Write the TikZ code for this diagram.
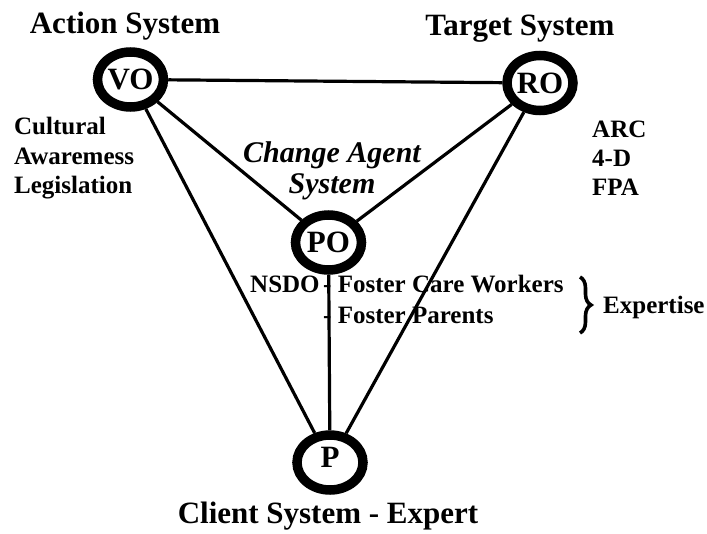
\documentclass[tikz,border=0pt]{standalone}
\usepackage{fontspec}
\setmainfont{Liberation Serif}
\usetikzlibrary{shapes.geometric,decorations.pathreplacing}
\begin{document}
\begin{tikzpicture}[x=1pt,y=-1pt,
  ring/.style={ellipse, draw, line width=9.5pt, minimum width=66pt, minimum height=55pt,
    inner sep=0pt, font=\fontsize{31}{31}\selectfont\bfseries},
  link/.style={line width=3.2pt},
  head/.style={inner sep=0pt, anchor=base, font=\fontsize{31}{37}\selectfont\bfseries},
  agent/.style={inner sep=0pt, anchor=base, font=\fontsize{30}{31}\selectfont\bfseries\itshape},
  note/.style={inner sep=0pt, anchor=base west, font=\fontsize{25}{29}\selectfont\bfseries}]
\useasboundingbox (0,0) rectangle (707,533);

% the four subsystems
\node[ring] (VO) at (130.5,79.5) {VO};
\node[ring] (RO) at (540,83) {RO};
\node[ring] (PO) at (328.5,242.5) {PO};
\node[ring, text depth=10pt] (P) at (330,462.5) {P};

% links between them
\draw[link] (VO) -- (RO);
\draw[link] (VO) -- (PO);
\draw[link] (RO) -- (PO);
\draw[link] (VO) -- (P);
\draw[link] (RO) -- (P);
\draw[link] (PO) -- (P);

% system titles
\node[head] (action) at (125,33) {Action System};
\node[head] (target) at (520,35) {Target System};
\node[head] (client) at (328,523) {Client System - Expert};
\node[agent] (agent1) at (332,162) {Change Agent};
\node[agent] (agent2) at (332,193) {System};

% action system notes
\node[note] (cult) at (14,134) {Cultural};
\node[note] (aware) at (14,164) {Awaremess};
\node[note] (legis) at (14,193) {Legislation};

% target system notes
\node[note] (arc) at (592,137) {ARC};
\node[note] (fourd) at (592,166) {4-D};
\node[note] (fpa) at (592,195) {FPA};

% change agent notes
\node[note] (nsdo) at (250,292) {NSDO};
\node[note] (fcw) at (323,292) {- Foster Care Workers};
\node[note] (fp) at (323,323) {- Foster Parents};
\coordinate (bt) at (580,277);
\coordinate (bb) at (580,333);
\draw[line width=3.6pt, decorate, decoration={brace, amplitude=11pt}] (bt) -- (bb);
\node[note] (expert) at (603,313) {Expertise};
\end{tikzpicture}
\end{document}
